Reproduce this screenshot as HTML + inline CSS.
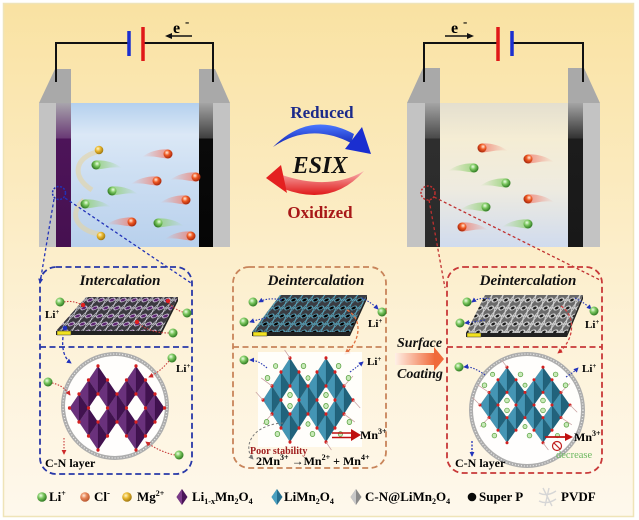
<!DOCTYPE html>
<html><head><meta charset="utf-8"><style>
html,body{margin:0;padding:0;background:#fff;}
svg{display:block;}
text{font-family:"Liberation Serif",serif;font-weight:bold;}
</style></head><body>
<svg width="639" height="520" viewBox="0 0 639 520" xmlns="http://www.w3.org/2000/svg">
<defs>
 <linearGradient id="bg" x1="0" y1="0" x2="0" y2="1">
  <stop offset="0" stop-color="#f9e2a2"/>
  <stop offset="0.33" stop-color="#fbeabd"/>
  <stop offset="0.65" stop-color="#fdf2d8"/>
  <stop offset="1" stop-color="#fef8ec"/>
 </linearGradient>
 <linearGradient id="liqB" x1="0" y1="0" x2="0" y2="1">
  <stop offset="0" stop-color="#b4d0ee"/><stop offset="0.22" stop-color="#dbe8f6"/>
  <stop offset="0.45" stop-color="#cfe0f3"/><stop offset="1" stop-color="#b8d0ec"/>
 </linearGradient>
 <linearGradient id="liqY" x1="0" y1="0" x2="0" y2="1">
  <stop offset="0" stop-color="#e4dfcf"/><stop offset="0.25" stop-color="#f5edd4"/>
  <stop offset="0.6" stop-color="#eeebe0"/><stop offset="1" stop-color="#d0dbee"/>
 </linearGradient>
 <linearGradient id="elP" x1="0" y1="0" x2="0" y2="1">
  <stop offset="0" stop-color="#a8a4ac"/><stop offset="0.243" stop-color="#6a3a76"/>
  <stop offset="0.25" stop-color="#4d1459"/><stop offset="1" stop-color="#461050"/>
 </linearGradient>
 <linearGradient id="elK" x1="0" y1="0" x2="0" y2="1">
  <stop offset="0" stop-color="#a4a4a4"/><stop offset="0.243" stop-color="#404040"/>
  <stop offset="0.25" stop-color="#0a0a0a"/><stop offset="1" stop-color="#050505"/>
 </linearGradient>
 <linearGradient id="elD" x1="0" y1="0" x2="0" y2="1">
  <stop offset="0" stop-color="#a4a4a4"/><stop offset="0.243" stop-color="#4a4a4a"/>
  <stop offset="0.25" stop-color="#2e2e2e"/><stop offset="1" stop-color="#2a2a2a"/>
 </linearGradient>
 <linearGradient id="elK2" x1="0" y1="0" x2="0" y2="1">
  <stop offset="0" stop-color="#a4a4a4"/><stop offset="0.243" stop-color="#333"/>
  <stop offset="0.25" stop-color="#1c1c1c"/><stop offset="1" stop-color="#181818"/>
 </linearGradient>
 <radialGradient id="gG" cx="0.38" cy="0.35" r="0.65">
  <stop offset="0" stop-color="#f0ffe8"/><stop offset="0.45" stop-color="#7cc860"/><stop offset="1" stop-color="#2f7a22"/>
 </radialGradient>
 <radialGradient id="gO" cx="0.38" cy="0.35" r="0.65">
  <stop offset="0" stop-color="#fff0e0"/><stop offset="0.45" stop-color="#f05a24"/><stop offset="1" stop-color="#a8280c"/>
 </radialGradient>
 <radialGradient id="gO2" cx="0.38" cy="0.35" r="0.65">
  <stop offset="0" stop-color="#ffeede"/><stop offset="0.45" stop-color="#e8875a"/><stop offset="1" stop-color="#b85830"/>
 </radialGradient>
 <radialGradient id="gY" cx="0.38" cy="0.35" r="0.65">
  <stop offset="0" stop-color="#fff6c8"/><stop offset="0.45" stop-color="#eab830"/><stop offset="1" stop-color="#a07810"/>
 </radialGradient>
 <linearGradient id="tG" x1="0" y1="0" x2="1" y2="0">
  <stop offset="0" stop-color="#8fd070" stop-opacity="0"/><stop offset="1" stop-color="#8fd070" stop-opacity="0.8"/>
 </linearGradient>
 <linearGradient id="tO" x1="0" y1="0" x2="1" y2="0">
  <stop offset="0" stop-color="#f08070" stop-opacity="0"/><stop offset="1" stop-color="#f08070" stop-opacity="0.8"/>
 </linearGradient>
 <linearGradient id="blueA" x1="0" y1="0" x2="0" y2="1">
  <stop offset="0" stop-color="#4a78ff"/><stop offset="1" stop-color="#1020b0"/>
 </linearGradient>
 <linearGradient id="redA" x1="0" y1="0" x2="0" y2="1">
  <stop offset="0" stop-color="#f8b0b0"/><stop offset="1" stop-color="#e01818"/>
 </linearGradient>
 <linearGradient id="coat" x1="0" y1="0" x2="1" y2="0">
  <stop offset="0" stop-color="#fff0e6"/><stop offset="1" stop-color="#f06a3a"/>
 </linearGradient>
 <g id="gl"><path d="M0,-4.5C-8,-5 -18,-3 -26,3C-16,1 -8,4 0,4.5Z" fill="url(#tG)"/><circle r="4.5" fill="url(#gG)"/></g>
 <g id="ol"><path d="M0,-4.5C-8,-5 -18,-3 -26,3C-16,1 -8,4 0,4.5Z" fill="url(#tO)"/><circle r="4.5" fill="url(#gO)"/></g>
 <circle id="gb" r="4.5" fill="url(#gG)"/>
 <pattern id="pm1" width="11" height="8" patternUnits="userSpaceOnUse" patternTransform="skewX(-38)">
  <rect width="11" height="8" fill="#3b3940"/>
  <ellipse cx="5.5" cy="4" rx="3.2" ry="2.2" fill="#5c2470"/>
  <path d="M0,0 Q2,4 0,8 M0,4 H2.5 Q5.5,0 8.5,4 H11 M2.5,4 Q5.5,8 8.5,4 M11,0 Q9,4 11,8" stroke="#e6e6ee" stroke-width="0.7" fill="none"/>
 </pattern>
 <pattern id="pm2" width="11" height="8" patternUnits="userSpaceOnUse" patternTransform="skewX(-36)">
  <rect width="11" height="8" fill="#3a3c42"/>
  <path d="M0,0 Q2,4 0,8 M0,4 H2.5 Q5.5,0 8.5,4 H11 M2.5,4 Q5.5,8 8.5,4 M11,0 Q9,4 11,8" stroke="#5cb2cc" stroke-width="0.8" fill="none"/>
  <circle cx="5.5" cy="4" r="1.6" fill="#000"/>
 </pattern>
 <pattern id="pm3" width="11" height="8" patternUnits="userSpaceOnUse" patternTransform="skewX(-28)">
  <rect width="11" height="8" fill="#6a6a6a"/>
  <path d="M0,0 Q2,4 0,8 M0,4 H2.5 Q5.5,0 8.5,4 H11 M2.5,4 Q5.5,8 8.5,4 M11,0 Q9,4 11,8" stroke="#dcdcdc" stroke-width="1" fill="none"/>
  <circle cx="5.5" cy="4" r="1.5" fill="#1a1a1a"/>
 </pattern>
 <marker id="mb" viewBox="0 0 6 6" refX="5" refY="3" markerWidth="5" markerHeight="5" orient="auto" markerUnits="userSpaceOnUse"><path d="M0,0L6,3L0,6Z" fill="#2233bb"/></marker>
 <marker id="mr" viewBox="0 0 6 6" refX="5" refY="3" markerWidth="5" markerHeight="5" orient="auto" markerUnits="userSpaceOnUse"><path d="M0,0L6,3L0,6Z" fill="#cc2a2a"/></marker>
 <marker id="mo" viewBox="0 0 6 6" refX="5" refY="3" markerWidth="6" markerHeight="6" orient="auto" markerUnits="userSpaceOnUse"><path d="M0,0L6,3L0,6Z" fill="#e07040"/></marker>
 <marker id="mg" viewBox="0 0 6 6" refX="5" refY="3" markerWidth="5" markerHeight="5" orient="auto" markerUnits="userSpaceOnUse"><path d="M0,0L6,3L0,6Z" fill="#777"/></marker>
 <g id="oct">
  <path d="M-20,-42L-30,-28L-20,-14ZM-30,-28L-40,-14L-30,0ZM-40,-14L-50,0L-40,14ZM-10,-28L-20,-14L-10,0ZM-30,0L-40,14L-30,28ZM0,-14L-10,0L0,14ZM-10,0L-20,14L-10,28ZM-20,14L-30,28L-20,42ZM20,-42L10,-28L20,-14ZM10,-28L0,-14L10,0ZM30,-28L20,-14L30,0ZM10,0L0,14L10,28ZM40,-14L30,0L40,14ZM30,0L20,14L30,28ZM20,14L10,28L20,42Z"/>
  <path d="M-20,-42L-10,-28L-20,-14ZM-30,-28L-20,-14L-30,0ZM-40,-14L-30,0L-40,14ZM-10,-28L0,-14L-10,0ZM-30,0L-20,14L-30,28ZM0,-14L10,0L0,14ZM-10,0L0,14L-10,28ZM-20,14L-10,28L-20,42ZM20,-42L30,-28L20,-14ZM10,-28L20,-14L10,0ZM30,-28L40,-14L30,0ZM10,0L20,14L10,28ZM40,-14L50,0L40,14ZM30,0L40,14L30,28ZM20,14L30,28L20,42Z"/>
  <path d="M-20,-42L-10,-28L-20,-14ZM-30,-28L-20,-14L-30,0ZM-40,-14L-30,0L-40,14ZM-10,-28L0,-14L-10,0ZM-30,0L-20,14L-30,28ZM0,-14L10,0L0,14ZM-10,0L0,14L-10,28ZM-20,14L-10,28L-20,42ZM20,-42L30,-28L20,-14ZM10,-28L20,-14L10,0ZM30,-28L40,-14L30,0ZM10,0L20,14L10,28ZM40,-14L50,0L40,14ZM30,0L40,14L30,28ZM20,14L30,28L20,42Z" fill="#000" fill-opacity="0.28"/>
  <path d="M-20,-42L-30,-28L-20,-14ZM-30,-28L-40,-14L-30,0ZM-40,-14L-50,0L-40,14ZM-10,-28L-20,-14L-10,0ZM-30,0L-40,14L-30,28ZM0,-14L-10,0L0,14ZM-10,0L-20,14L-10,28ZM-20,14L-30,28L-20,42ZM20,-42L10,-28L20,-14ZM10,-28L0,-14L10,0ZM30,-28L20,-14L30,0ZM10,0L0,14L10,28ZM40,-14L30,0L40,14ZM30,0L20,14L30,28ZM20,14L10,28L20,42Z" fill="#fff" fill-opacity="0.1" stroke="#000" stroke-opacity="0.15" stroke-width="0.5"/>
  <path d="M-30,-28h0M-10,-28h0M-20,-42h0M-20,-14h0M-40,-14h0M-30,0h0M-50,0h0M-40,14h0M0,-14h0M-10,0h0M-20,14h0M-30,28h0M0,14h0M-10,28h0M-20,42h0M30,-28h0M10,-28h0M20,-42h0M20,-14h0M40,-14h0M30,0h0M50,0h0M40,14h0M10,0h0M20,14h0M30,28h0M10,28h0M20,42h0" stroke="#d42020" stroke-width="3.4" stroke-linecap="round" fill="none"/>
 </g>
 <g id="lis" fill="#c8eab8" stroke="#58a040" stroke-width="0.8">
  <path d="M-50,0L-58,-8M50,0L58,8M-20,-42L-26,-50M20,42L26,50M-40,-14L-52,-22M40,14L52,22M-40,14L-50,24M40,-14L50,-24" stroke="#c8a0a0" stroke-width="0.8" fill="none"/>
  <circle cx="-20" cy="-5" r="2.6"/><circle cx="-20" cy="6" r="2.6"/>
  <circle cx="20" cy="-5" r="2.6"/><circle cx="20" cy="6" r="2.6"/>
  <circle cx="-45" cy="-22" r="2.6"/><circle cx="-46" cy="22" r="2.6"/>
  <circle cx="45" cy="-22" r="2.6"/><circle cx="46" cy="22" r="2.6"/>
  <circle cx="-5" cy="-34" r="2.6"/><circle cx="5" cy="34" r="2.6"/>
  <circle cx="-34" cy="34" r="2.6"/><circle cx="34" cy="-34" r="2.6"/>
  <circle cx="-36" cy="-34" r="2.4"/><circle cx="36" cy="34" r="2.4"/>
  <circle cx="0" cy="-22" r="2.3"/><circle cx="0" cy="24" r="2.3"/>
 </g>
</defs>

<rect x="0" y="0" width="639" height="520" fill="#fff"/>
<rect x="3.5" y="3.5" width="630" height="513" fill="url(#bg)" stroke="#efe4b8" stroke-width="1.5"/>

<!-- ===== Top-left cell ===== -->
<rect x="57" y="103" width="156" height="144" fill="url(#liqB)"/>
<polygon points="39,103 55,69 71,69 71,247 39,247" fill="#a9a9a9"/>
<rect x="39" y="103" width="17" height="144" fill="#c3c3c3"/>
<rect x="56" y="103" width="15" height="144" fill="url(#elP)"/>
<polygon points="199,69 215,69 230,103 230,247 199,247" fill="#a9a9a9"/>
<rect x="213" y="103" width="17" height="144" fill="#c3c3c3"/>
<rect x="199" y="103" width="14" height="144" fill="url(#elK)"/>
<polyline points="56,82 56,43 128,43" fill="none" stroke="#111" stroke-width="2"/>
<polyline points="142,43 213,43 213,82" fill="none" stroke="#111" stroke-width="2"/>
<line x1="129" y1="31" x2="129" y2="56" stroke="#1b2fd0" stroke-width="3.5"/>
<line x1="143" y1="27" x2="143" y2="61" stroke="#e01818" stroke-width="3.5"/>
<text x="173" y="33" font-size="16">e</text><text x="185" y="26" font-size="13">-</text>
<line x1="192" y1="36" x2="170" y2="36" stroke="#111" stroke-width="1.5"/>
<polygon points="165,36 172,33 172,39" fill="#111"/>

<path d="M97,152 C76,157 70,176 92,190" stroke="#e8d49a" stroke-opacity="0.55" stroke-width="5" fill="none"/>
<path d="M99,234 C76,230 68,213 84,200" stroke="#e8d49a" stroke-opacity="0.55" stroke-width="5" fill="none"/>
<use href="#ol" transform="translate(168,154)"/>
<use href="#ol" transform="translate(157,181)"/>
<use href="#ol" transform="translate(196,177)"/>
<use href="#ol" transform="translate(186,200)"/>
<use href="#ol" transform="translate(132,222)"/>
<use href="#ol" transform="translate(191,236)"/>
<use href="#gl" transform="translate(96,165) scale(-1,1)"/>
<use href="#gl" transform="translate(112,191) scale(-1,1)"/>
<use href="#gl" transform="translate(85,204) scale(-1,1)"/>
<use href="#gl" transform="translate(158,223) scale(-1,1)"/>
<circle cx="99" cy="150" r="4.3" fill="url(#gY)"/>
<circle cx="101" cy="236" r="4.3" fill="url(#gY)"/>
<circle cx="59" cy="193" r="6.5" fill="none" stroke="#2232b8" stroke-width="1.5" stroke-dasharray="2 1.5"/>

<!-- ===== Top-right cell ===== -->
<rect x="425" y="103" width="158" height="144" fill="url(#liqY)"/>
<polygon points="407,103 423,68 440,68 440,247 407,247" fill="#a9a9a9"/>
<rect x="407" y="103" width="18" height="144" fill="#c3c3c3"/>
<rect x="425" y="103" width="15" height="144" fill="url(#elD)"/>
<polygon points="568,68 584,68 600,103 600,247 568,247" fill="#a9a9a9"/>
<rect x="583" y="103" width="17" height="144" fill="#c3c3c3"/>
<rect x="568" y="103" width="15" height="144" fill="url(#elK2)"/>
<polyline points="424,82 424,43 497,43" fill="none" stroke="#111" stroke-width="2"/>
<polyline points="512,43 583,43 583,82" fill="none" stroke="#111" stroke-width="2"/>
<line x1="498" y1="27" x2="498" y2="61" stroke="#e01818" stroke-width="3.5"/>
<line x1="512" y1="31" x2="512" y2="56" stroke="#1b2fd0" stroke-width="3.5"/>
<text x="451" y="33" font-size="16">e</text><text x="463" y="26" font-size="13">-</text>
<line x1="445" y1="36" x2="468" y2="36" stroke="#111" stroke-width="1.5"/>
<polygon points="474,36 467,33 467,39" fill="#111"/>
<use href="#ol" transform="translate(482,148) scale(-1,1)"/>
<use href="#ol" transform="translate(528,159) scale(-1,1)"/>
<use href="#ol" transform="translate(528,199) scale(-1,1)"/>
<use href="#ol" transform="translate(462,227) scale(-1,1)"/>
<use href="#gl" transform="translate(474,168)"/>
<use href="#gl" transform="translate(506,183)"/>
<use href="#gl" transform="translate(486,207)"/>
<use href="#gl" transform="translate(528,224)"/>
<circle cx="428" cy="193" r="7" fill="none" stroke="#c03030" stroke-width="1.5" stroke-dasharray="2 1.5"/>

<!-- ===== ESIX ===== -->
<text x="322" y="118" font-size="17" fill="#1b2a8a" text-anchor="middle">Reduced</text>
<path d="M273,147 Q310,110 354,134 L351,143 Q310,122 273,147Z" fill="url(#blueA)"/>
<polygon points="345,149 362,127 371,154" fill="#1a2ed0"/>
<text x="320" y="173" font-size="24" font-style="italic" text-anchor="middle" fill="#111">ESIX</text>
<path d="M364,171 Q332,207 284,189 L282,175 Q330,191 364,171Z" fill="url(#redA)"/>
<polygon points="266,178 281,165 287,193" fill="#e42020"/>
<text x="320" y="218" font-size="17" fill="#a81818" text-anchor="middle">Oxidized</text>

<g stroke="#2232b8" stroke-width="1.3" stroke-dasharray="3 2.5" fill="none">
 <line x1="54" y1="199" x2="40" y2="283" marker-end="url(#mb)"/>
 <line x1="65" y1="198" x2="191" y2="283"/>
</g>
<g stroke="#c03030" stroke-width="1.3" stroke-dasharray="3 2.5" fill="none">
 <line x1="429" y1="200" x2="445" y2="288"/>
 <line x1="434" y1="197" x2="600" y2="280"/>
</g>

<!-- ===== Left panel ===== -->
<rect x="40" y="267" width="152" height="207" rx="16" fill="none" stroke="#2838a8" stroke-width="1.8" stroke-dasharray="6 3.5"/>
<line x1="40" y1="347" x2="192" y2="347" stroke="#2838a8" stroke-width="1.8" stroke-dasharray="6 3.5"/>
<text x="120" y="285" font-size="15" font-style="italic" text-anchor="middle" fill="#111">Intercalation</text>
<polygon points="56,331 161,331 178,297 178,301 161,335 56,335" fill="#222"/>
<polygon points="86,297 178,297 161,331 56,331" fill="url(#pm1)"/>
<rect x="57" y="331" width="14" height="4" fill="#f2e21e" stroke="#333" stroke-width="0.5"/>
<circle cx="65" cy="328" r="2.3" fill="#2030c0"/>
<g stroke="#c83a3a" stroke-width="1.1" stroke-dasharray="1.5 1.5" fill="none">
 <path d="M64,302 Q73,300 82,305"/>
 <path d="M183,312 Q175,310 168,302"/>
 <path d="M169,333 Q150,333 138,323"/>
</g>
<circle cx="83" cy="305" r="2.2" fill="#e02020"/>
<circle cx="168" cy="301" r="2.2" fill="#e02020"/>
<circle cx="137" cy="322" r="2.2" fill="#e02020"/>
<use href="#gb" x="60" y="302"/>
<use href="#gb" x="187" y="313"/>
<use href="#gb" x="173" y="333"/>
<text x="45" y="318" font-size="11">Li<tspan font-size="7" dy="-4">+</tspan></text>
<path d="M63,337 Q61,356 71,363" stroke="#2232b8" stroke-width="1.3" stroke-dasharray="3 2" fill="none" marker-end="url(#mb)"/>
<circle cx="115" cy="406" r="52" fill="#fff" fill-opacity="0.9" stroke="#adadad" stroke-width="4"/>
<circle cx="115" cy="406" r="52" fill="none" stroke="#fff" stroke-width="1.2" stroke-dasharray="1 2" stroke-opacity="0.8"/>
<use href="#oct" transform="translate(117,408) scale(0.95,1)" fill="#5a1a6e"/>
<g stroke="#c83a3a" stroke-width="1.1" stroke-dasharray="1.5 1.5" fill="none">
 <path d="M169,361 Q160,372 149,377" marker-end="url(#mr)"/>
 <path d="M52,383 Q63,385 70,395" marker-end="url(#mr)"/>
 <path d="M175,455 Q160,452 146,442" marker-end="url(#mr)"/>
 <path d="M64,438 L64,454" marker-end="url(#mr)"/>
</g>
<use href="#gb" x="172" y="358"/>
<use href="#gb" x="48" y="382"/>
<use href="#gb" x="179" y="455"/>
<text x="176" y="372" font-size="11">Li<tspan font-size="7" dy="-4">+</tspan></text>
<text x="45" y="467" font-size="12">C-N layer</text>

<!-- ===== Middle panel ===== -->
<rect x="233" y="267" width="153" height="201" rx="16" fill="none" stroke="#c8845a" stroke-width="1.8" stroke-dasharray="6 3.5"/>
<line x1="233" y1="347" x2="386" y2="347" stroke="#c8845a" stroke-width="1.8" stroke-dasharray="6 3.5"/>
<text x="316" y="285" font-size="15" font-style="italic" text-anchor="middle" fill="#111">Deintercalation</text>
<polygon points="252,332 350,332 367,295 367,299 350,336 252,336" fill="#222"/>
<polygon points="280,295 367,295 350,332 252,332" fill="url(#pm2)"/>
<rect x="253" y="332" width="14" height="4" fill="#f2e21e" stroke="#333" stroke-width="0.5"/>
<g stroke="#2838b0" stroke-width="1.1" stroke-dasharray="1.5 1.5" fill="none">
 <path d="M282,300 Q268,297 259,302" marker-end="url(#mb)"/>
 <path d="M266,318 Q256,320 250,322" marker-end="url(#mb)"/>
 <path d="M362,298 Q372,303 378,309" marker-end="url(#mb)"/>
</g>
<use href="#gb" x="253" y="302"/>
<use href="#gb" x="244" y="322"/>
<use href="#gb" x="382" y="312"/>
<text x="368" y="327" font-size="11">Li<tspan font-size="7" dy="-4">+</tspan></text>
<path d="M347,310 C362,318 362,340 345,354" stroke="#e07040" stroke-width="1.3" stroke-dasharray="3 2" fill="none" marker-end="url(#mo)"/>
<rect x="258" y="352" width="104" height="95" fill="#fff" fill-opacity="0.85"/>
<use href="#oct" transform="translate(308,400) scale(0.9,1)" fill="#2f8aac"/>
<use href="#lis" transform="translate(308,400) scale(0.9,1)"/>
<g stroke="#2838b0" stroke-width="1.1" stroke-dasharray="1.5 1.5" fill="none">
 <path d="M267,368 Q258,360 250,360" marker-end="url(#mb)"/>
 <path d="M350,372 Q358,366 363,362" marker-end="url(#mb)"/>
</g>
<use href="#gb" x="244" y="360"/>
<text x="367" y="365" font-size="11">Li<tspan font-size="7" dy="-4">+</tspan></text>
<line x1="332" y1="433" x2="352" y2="433" stroke="#c01010" stroke-width="1.6"/>
<line x1="332" y1="437.5" x2="352" y2="437.5" stroke="#c01010" stroke-width="1.6"/>
<polygon points="351,429 361,435 351,441" fill="#c01010"/>
<text x="360" y="439" font-size="12">Mn<tspan font-size="8" dy="-5">3+</tspan></text>
<path d="M283,423 C250,425 243,448 253,459" stroke="#777" stroke-width="1" stroke-dasharray="2.5 2" fill="none" marker-end="url(#mg)"/>
<text x="250" y="454" font-size="10" fill="#a02020">Poor stability</text>
<text x="256" y="465" font-size="12">2Mn<tspan font-size="8" dy="-5">3+</tspan><tspan dy="5"> →Mn</tspan><tspan font-size="8" dy="-5">2+</tspan><tspan dy="5"> + Mn</tspan><tspan font-size="8" dy="-5">4+</tspan></text>

<text x="397" y="347" font-size="14" font-style="italic" fill="#111">Surface</text>
<rect x="395" y="353" width="40" height="12" fill="url(#coat)"/>
<polygon points="434,347 444,359 434,371" fill="#f06a3a"/>
<text x="397" y="378" font-size="14" font-style="italic" fill="#111">Coating</text>

<!-- ===== Right panel ===== -->
<rect x="447" y="267" width="155" height="206" rx="16" fill="none" stroke="#c83838" stroke-width="1.8" stroke-dasharray="6 3.5"/>
<line x1="447" y1="347" x2="602" y2="347" stroke="#c83838" stroke-width="1.8" stroke-dasharray="6 3.5"/>
<text x="528" y="285" font-size="15" font-style="italic" text-anchor="middle" fill="#111">Deintercalation</text>
<polygon points="466,333 567,333 583,295 583,299 567,337 466,337" fill="#222"/>
<polygon points="485,295 583,295 567,333 466,333" fill="url(#pm3)"/>
<rect x="467" y="333" width="14" height="4" fill="#f2e21e" stroke="#333" stroke-width="0.5"/>
<g stroke="#2838b0" stroke-width="1.1" stroke-dasharray="1.5 1.5" fill="none">
 <path d="M490,299 Q479,297 472,302" marker-end="url(#mb)"/>
 <path d="M485,320 Q473,322 465,323" marker-end="url(#mb)"/>
 <path d="M575,298 Q585,303 591,309" marker-end="url(#mb)"/>
</g>
<use href="#gb" x="467" y="302"/>
<use href="#gb" x="460" y="323"/>
<use href="#gb" x="594" y="311"/>
<text x="585" y="328" font-size="11">Li<tspan font-size="7" dy="-4">+</tspan></text>
<path d="M561,306 C576,316 575,340 558,353" stroke="#d04040" stroke-width="1.3" stroke-dasharray="3 2" fill="none" marker-end="url(#mr)"/>
<circle cx="527" cy="410" r="56" fill="#fff" fill-opacity="0.9" stroke="#adadad" stroke-width="4"/>
<circle cx="527" cy="410" r="56" fill="none" stroke="#fff" stroke-width="1.2" stroke-dasharray="1 2" stroke-opacity="0.8"/>
<use href="#oct" transform="translate(525,405) scale(0.9,0.9)" fill="#2f8aac"/>
<use href="#lis" transform="translate(525,405) scale(0.9,0.9)"/>
<g stroke="#2838b0" stroke-width="1.1" stroke-dasharray="1.5 1.5" fill="none">
 <path d="M485,375 Q473,366 464,367" marker-end="url(#mb)"/>
 <path d="M566,377 Q574,372 578,368" marker-end="url(#mb)"/>
</g>
<use href="#gb" x="459" y="367"/>
<text x="582" y="372" font-size="11">Li<tspan font-size="7" dy="-4">+</tspan></text>
<line x1="545" y1="437" x2="566" y2="437" stroke="#c01010" stroke-width="1.8"/>
<polygon points="565,433 573,437 565,441" fill="#c01010"/>
<circle cx="557" cy="446" r="4.5" fill="none" stroke="#c02020" stroke-width="1.2"/>
<line x1="554" y1="443" x2="560" y2="449" stroke="#c02020" stroke-width="1.2"/>
<text x="574" y="441" font-size="12">Mn<tspan font-size="8" dy="-5">3+</tspan></text>
<text x="556" y="458" font-size="10.5" fill="#6cb860" style="font-weight:normal">decrease</text>
<path d="M472,441 L472,456" stroke="#2232b8" stroke-width="1.3" stroke-dasharray="2 1.5" fill="none" marker-end="url(#mb)"/>
<text x="455" y="467" font-size="12">C-N layer</text>

<!-- ===== Legend ===== -->
<circle cx="42" cy="497" r="4.8" fill="url(#gG)"/>
<text x="49" y="501" font-size="13">Li<tspan font-size="8" dy="-5">+</tspan></text>
<circle cx="85" cy="497" r="4.8" fill="url(#gO2)"/>
<text x="94" y="501" font-size="13">Cl<tspan font-size="9" dy="-5">-</tspan></text>
<circle cx="127" cy="497" r="4.8" fill="url(#gY)"/>
<text x="137" y="501" font-size="13">Mg<tspan font-size="8" dy="-5">2+</tspan></text>
<polygon points="182,489 187.5,497 182,505 176.5,497" fill="#4a1458"/>
<polygon points="182,489 182,505 176.5,497" fill="#7a3a88"/>
<text x="192" y="501" font-size="13">Li<tspan font-size="8" dy="3">1-x</tspan><tspan dy="-3">Mn</tspan><tspan font-size="8" dy="3">2</tspan><tspan dy="-3">O</tspan><tspan font-size="8" dy="3">4</tspan></text>
<polygon points="277,489 282.5,497 277,505 271.5,497" fill="#256e8e"/>
<polygon points="277,489 277,505 271.5,497" fill="#4aa0c0"/>
<text x="284" y="501" font-size="13">LiMn<tspan font-size="8" dy="3">2</tspan><tspan dy="-3">O</tspan><tspan font-size="8" dy="3">4</tspan></text>
<polygon points="356,489 361.5,497 356,505 350.5,497" fill="#8a8a8a"/>
<polygon points="356,489 356,505 350.5,497" fill="#c8c8c8"/>
<text x="365" y="501" font-size="13">C-N@LiMn<tspan font-size="8" dy="3">2</tspan><tspan dy="-3">O</tspan><tspan font-size="8" dy="3">4</tspan></text>
<circle cx="472" cy="497" r="4.3" fill="#0a0a0a"/>
<text x="479" y="501" font-size="13">Super P</text>
<path d="M539,493 Q547,497 556,491 M539,501 Q547,505 556,499 M543,488 L552,506 M549,488 L545,506" stroke="#d6d6d6" stroke-width="1.4" fill="none"/>
<text x="561" y="501" font-size="13">PVDF</text>
</svg>
</body></html>
